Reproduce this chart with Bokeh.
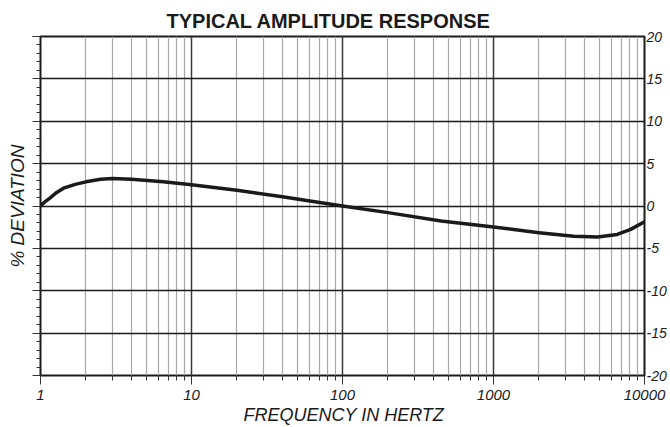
from bokeh.plotting import figure
from bokeh.models import (FixedTicker, PrintfTickFormatter, CustomJSTickFormatter,
                          LinearAxis, Title)
from bokeh.embed import file_html
from bokeh.resources import INLINE

# ---- data ----
freq_hz = [1, 1.08, 1.165, 1.28, 1.42, 1.7, 2.0, 2.5, 3.0, 4.0, 6.5, 10, 20, 40, 100,
           200, 450, 1000, 2000, 3400, 4900, 6600, 8100, 10000]
deviation_pct = [0.0, 0.55, 1.0, 1.6, 2.1, 2.55, 2.85, 3.15, 3.25, 3.15, 2.85, 2.5, 1.85, 1.1, 0.0,
                 -0.78, -1.77, -2.48, -3.15, -3.58, -3.66, -3.35, -2.76, -1.85]

x_major = [1, 10, 100, 1000, 10000]
x_minor = [m * d for d in [1, 10, 100, 1000] for m in range(2, 10)]
y_major = [-20, -15, -10, -5, 0, 5, 10, 15, 20]
y_minor = list(range(-20, 21))

title_text = "TYPICAL AMPLITUDE RESPONSE"
x_label = "FREQUENCY IN HERTZ"
y_label = "% DEVIATION"

FONT = "Liberation Sans"
INK = "#1a1a1a"

p = figure(width=670, height=427, x_axis_type="log",
           x_range=(x_major[0], x_major[-1]), y_range=(y_major[0], y_major[-1]),
           output_backend="svg", toolbar_location=None,
           min_border_left=40, min_border_right=26, min_border_top=36, min_border_bottom=52)

p.background_fill_color = "white"
p.border_fill_color = "white"
p.outline_line_color = INK
p.outline_line_width = 2

# title
p.title.text = title_text
p.title.align = "left"
p.title.offset = 126
p.title.standoff = 9
p.title.text_font = FONT
p.title.text_font_size = "20px"
p.title.text_font_style = "bold"
p.title.text_color = INK

# x axis
xt = FixedTicker(ticks=x_major, minor_ticks=x_minor)
xa = p.xaxis[0]
xa.ticker = xt
xa.formatter = PrintfTickFormatter(format="%d")
xa.axis_line_color = None
xa.major_tick_out = 9
xa.major_tick_in = 0
xa.minor_tick_out = 5
xa.minor_tick_in = 0
xa.major_tick_line_color = "#333333"
xa.minor_tick_line_color = "#333333"
xa.major_label_standoff = 5
xa.major_label_text_font = FONT
xa.major_label_text_font_size = "15px"
xa.major_label_text_font_style = "italic"
xa.major_label_text_color = INK

# x axis title as a below-title so it can be offset like the reference
p.add_layout(Title(text=x_label, align="left", offset=203, standoff=0,
                   text_font=FONT, text_font_size="18px", text_font_style="italic",
                   text_color=INK), "below")

# y axis (ticks only, label as axis label)
yt = FixedTicker(ticks=y_major, minor_ticks=y_minor)
ya = p.yaxis[0]
ya.ticker = yt
ya.formatter = CustomJSTickFormatter(code="return ''")
ya.axis_line_color = None
ya.major_tick_out = 8
ya.major_tick_in = 0
ya.minor_tick_out = 4
ya.minor_tick_in = 0
ya.major_label_standoff = 0
ya.major_tick_line_color = "#333333"
ya.minor_tick_line_color = "#333333"
ya.axis_label = y_label
ya.axis_label_standoff = 5
ya.axis_label_text_font = FONT
ya.axis_label_text_font_size = "19px"
ya.axis_label_text_font_style = "italic"
ya.axis_label_text_color = INK

# right axis with value labels only
ra = LinearAxis(ticker=FixedTicker(ticks=y_major), formatter=PrintfTickFormatter(format="%d"))
ra.axis_line_color = None
ra.major_tick_line_color = None
ra.minor_tick_line_color = None
ra.major_tick_out = 0
ra.major_tick_in = 0
ra.minor_tick_out = 0
ra.minor_tick_in = 0
ra.major_label_standoff = 2
ra.major_label_text_font = FONT
ra.major_label_text_font_size = "14px"
ra.major_label_text_font_style = "italic"
ra.major_label_text_color = INK
p.add_layout(ra, "right")

# grids
p.xgrid.ticker = xt
p.xgrid.grid_line_color = "#3a3a3a"
p.xgrid.grid_line_width = 1.5
p.xgrid.minor_grid_line_color = "#a8a8a8"
p.xgrid.minor_grid_line_width = 1.2
p.ygrid.ticker = FixedTicker(ticks=y_major)
p.ygrid.grid_line_color = INK
p.ygrid.grid_line_width = 1.3

# curve
p.line(freq_hz, deviation_pct, line_color=INK, line_width=3.5,
       line_join="round", line_cap="round")

open("out.html", "w").write(file_html(p, INLINE))
